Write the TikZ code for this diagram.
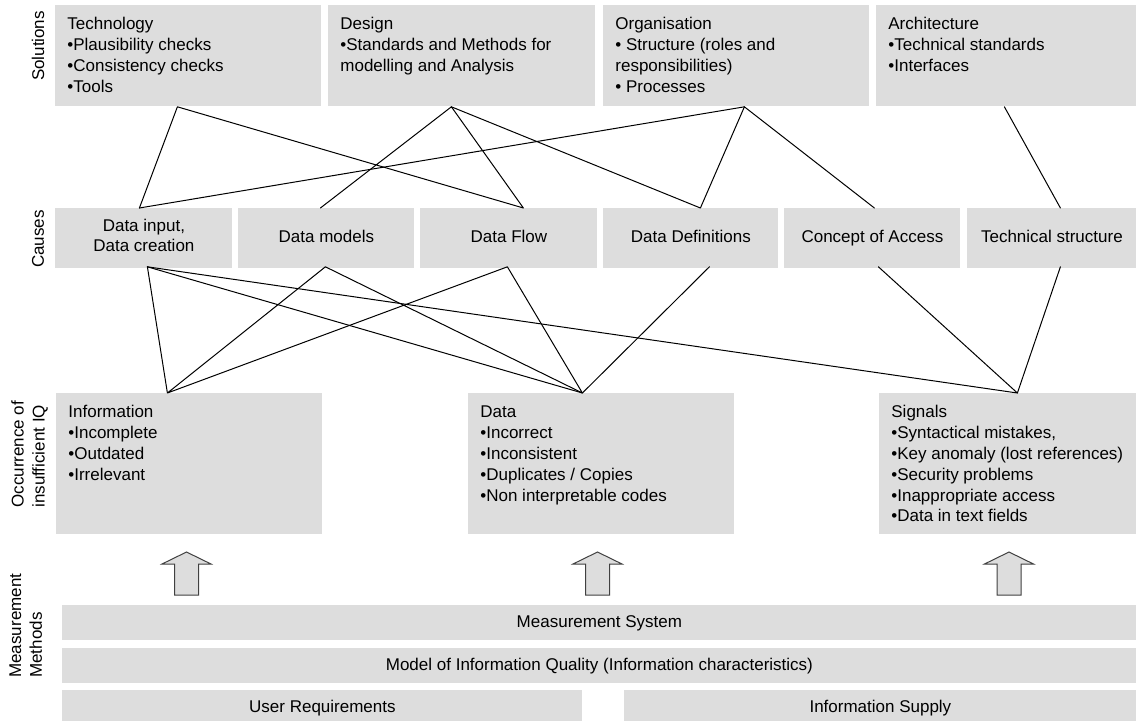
\documentclass[tikz,border=0pt]{standalone}
\usepackage{fontspec}
\setmainfont{Liberation Sans}
\definecolor{boxgray}{HTML}{DDDDDD}
% text block at the top left of a grey box
\newcommand{\boxtext}[3]{\parbox[c][#2][t]{#1}{\raggedright\leftskip=6pt\vspace*{5pt}\strut #3}}
\begin{document}
\begin{tikzpicture}[x=0.5pt,y=-0.5pt,line join=round,line cap=round,font=\fontsize{8.5}{10.4}\selectfont,
  sol/.style={fill=boxgray,anchor=north west,inner sep=0pt},
  cause/.style={fill=boxgray,anchor=north west,inner sep=0pt,minimum height=30pt,align=center,execute at begin node=\strut},
  meas/.style={fill=boxgray,anchor=north west,inner sep=0pt,minimum height=17.5pt,execute at begin node=\strut},
  side/.style={rotate=90,inner sep=0pt},
  link/.style={line width=0.5pt},
  uparrow/.style={draw=black!75,fill=boxgray,line width=0.5pt,line join=miter}]
\useasboundingbox (0,0) rectangle (1136,720);
% row labels
\node[side] (lsol) at (38,46) {Solutions};
\node[side] (lcau) at (38,239) {Causes};
\node[side,anchor=north west,align=left] (locc) at (11,508) {Occurrence of\\insufficient IQ};
\node[side,anchor=north west,align=left] (lmeas) at (9,678) {Measurement\\Methods};
% solutions
\node[sol] (tech) at (55,5) {\boxtext{133pt}{50.5pt}{Technology\\•Plausibility checks\\•Consistency checks\\•Tools}};
\node[sol] (design) at (328,5) {\boxtext{133.5pt}{50.5pt}{Design\\•Standards and Methods for\\modelling and Analysis}};
\node[sol] (organ) at (603,5) {\boxtext{133pt}{50.5pt}{Organisation\\• Structure (roles and\\responsibilities)\\• Processes}};
\node[sol] (archi) at (876,5) {\boxtext{130pt}{50.5pt}{Architecture\\•Technical standards\\•Interfaces}};
% causes
\node[cause,minimum width=88.5pt] (cin) at (55,208) {Data input,\\Data creation};
\node[cause,minimum width=88pt] (cmod) at (238,208) {Data models};
\node[cause,minimum width=88.5pt] (cflow) at (420,208) {Data Flow};
\node[cause,minimum width=87.5pt] (cdef) at (603,208) {Data Definitions};
\node[cause,minimum width=88pt] (cacc) at (784,208) {Concept of Access};
\node[cause,minimum width=84.5pt] (ctec) at (967,208) {Technical structure};
% occurrence of insufficient IQ
\node[sol] (info) at (56,393) {\boxtext{133pt}{70.5pt}{Information\\•Incomplete\\•Outdated\\•Irrelevant}};
\node[sol] (data) at (468,393) {\boxtext{133pt}{70.5pt}{Data\\•Incorrect\\•Inconsistent\\•Duplicates / Copies\\•Non interpretable codes}};
\node[sol] (sig) at (879,393) {\boxtext{128.5pt}{70.5pt}{Signals\\•Syntactical mistakes,\\•Key anomaly (lost references)\\•Security problems\\•Inappropriate access\\•Data in text fields}};
% measurement methods
\node[meas,minimum width=537pt] (msys) at (62,605) {Measurement System};
\node[meas,minimum width=537pt] (mmodel) at (62,648) {Model of Information Quality (Information characteristics)};
\node[meas,minimum width=260pt] (muser) at (62,690) {User Requirements};
\node[meas,minimum width=256pt] (msupply) at (624,690) {Information Supply};
% attachment points
\coordinate (tech-b) at ([xshift=-5.5pt]tech.south);
\coordinate (design-b) at ([xshift=-5.25pt]design.south);
\coordinate (organ-b) at ([xshift=4pt]organ.south);
\coordinate (archi-b) at ([xshift=-1pt]archi.south);
\coordinate (cin-t) at ([xshift=-2.25pt]cin.north);
\coordinate (cmod-t) at ([xshift=-3pt]cmod.north);
\coordinate (cflow-t) at ([xshift=7.25pt]cflow.north);
\coordinate (cdef-t) at ([xshift=4.75pt]cdef.north);
\coordinate (cacc-t) at ([xshift=1pt]cacc.north);
\coordinate (ctec-t) at ([xshift=4.25pt]ctec.north);
\coordinate (cin-b) at ([xshift=1.75pt,yshift=1pt]cin.south);
\coordinate (cmod-b) at ([xshift=-0.5pt,yshift=1pt]cmod.south);
\coordinate (cflow-b) at ([xshift=-0.75pt,yshift=1pt]cflow.south);
\coordinate (cdef-b) at ([xshift=9.25pt,yshift=1pt]cdef.south);
\coordinate (cacc-b) at ([xshift=3pt,yshift=1pt]cacc.south);
\coordinate (ctec-b) at ([xshift=4.25pt,yshift=1pt]ctec.south);
\coordinate (info-t) at ([xshift=-11pt]info.north);
\coordinate (data-t) at ([xshift=-9.5pt]data.north);
\coordinate (sig-t) at ([xshift=4.75pt]sig.north);
% solutions -- causes
\draw[link] (cin-t) -- (tech-b) -- (cflow-t) -- (design-b) -- (cmod-t);
\draw[link] (design-b) -- (cdef-t) -- (organ-b) -- (cacc-t);
\draw[link] (cin-t) -- (organ-b);
\draw[link] (archi-b) -- (ctec-t);
% causes -- occurrence
\draw[link] (cin-b) -- (info-t) -- (cmod-b) -- (data-t) -- (cflow-b) -- (info-t);
\draw[link] (cin-b) -- (data-t) -- (cdef-b);
\draw[link] (cin-b) -- (sig-t) -- (cacc-b);
\draw[link] (ctec-b) -- (sig-t);
% measurement arrows
\foreach \ax in {186.5,597.5,1009}
  \draw[uparrow] (\ax-12,595) -- (\ax-12,564) -- (\ax-24.5,564) -- (\ax,552)
    -- (\ax+24.5,564) -- (\ax+12,564) -- (\ax+12,595) -- cycle;
\end{tikzpicture}
\end{document}
